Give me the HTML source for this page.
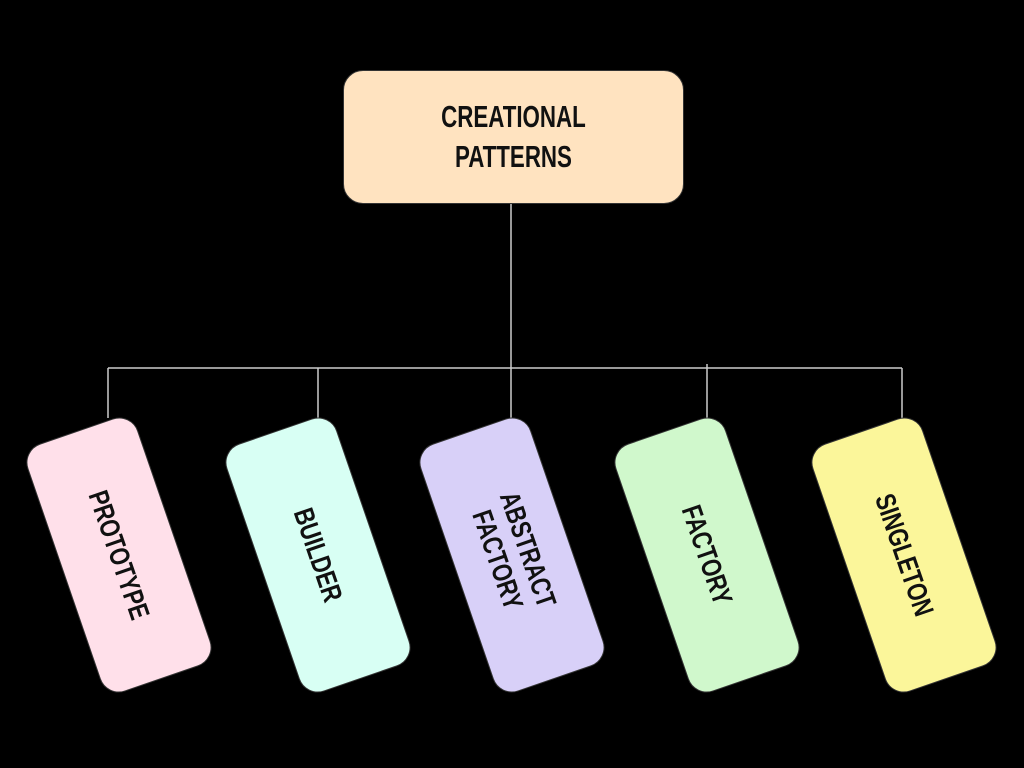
<!DOCTYPE html>
<html><head><meta charset="utf-8"><style>
body{margin:0;width:1024px;height:768px;background:#000;position:relative;overflow:hidden;font-family:"Liberation Sans",sans-serif;}
.top{position:absolute;left:343px;top:70px;width:339px;height:132px;background:#ffe3c0;border:1.5px solid #333;border-radius:20px;display:flex;align-items:center;justify-content:center;text-align:center;font-weight:bold;font-size:31px;line-height:40px;color:#111;}
.top span{display:inline-block;transform:scaleX(0.72);}
.card{position:absolute;width:115px;height:260px;border:1.5px solid #333;border-radius:20px;transform:translate(-50%,-50%) rotate(-19deg);display:flex;align-items:center;justify-content:center;top:555px;}
.card span{display:block;transform:rotate(90deg) scaleX(0.78);white-space:nowrap;font-weight:bold;font-size:28px;line-height:32px;text-align:center;color:#111;}
svg{position:absolute;left:0;top:0;}
</style></head><body>
<svg width="1024" height="768"><g stroke="#ccc" stroke-width="1.5" fill="none">
<line x1="511" y1="203" x2="511" y2="418"/>
<line x1="108" y1="368" x2="902" y2="368"/>
<line x1="108" y1="368" x2="108" y2="418"/>
<line x1="318" y1="368" x2="318" y2="418"/>
<line x1="707" y1="364" x2="707" y2="418"/>
<line x1="902" y1="368" x2="902" y2="418"/>
</g></svg>
<div class="top"><span>CREATIONAL<br>PATTERNS</span></div>
<div class="card" style="left:119px;background:#ffe0ea"><span>PROTOTYPE</span></div>
<div class="card" style="left:318px;background:#d8fff4"><span>BUILDER</span></div>
<div class="card" style="left:512px;background:#d8d0f8"><span>ABSTRACT<br>FACTORY</span></div>
<div class="card" style="left:707px;background:#d0f8cc"><span>FACTORY</span></div>
<div class="card" style="left:904px;background:#fbf69a"><span>SINGLETON</span></div>
</body></html>
